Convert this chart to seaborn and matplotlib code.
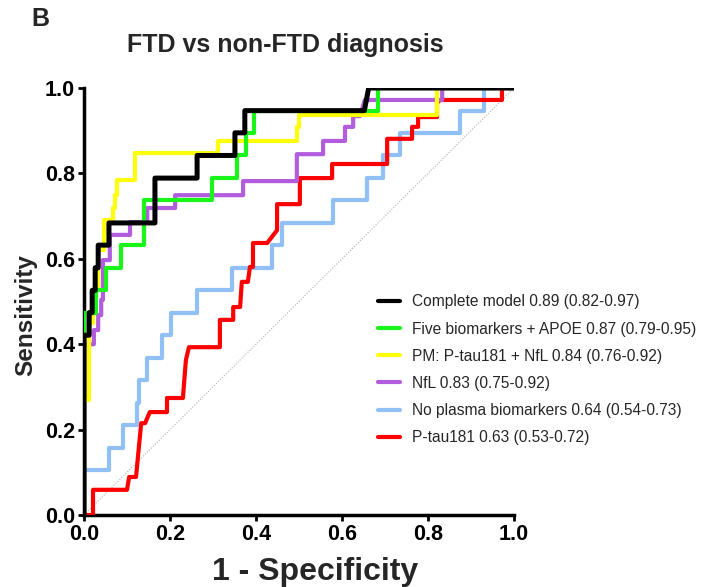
import matplotlib
matplotlib.use("Agg")
import matplotlib.pyplot as plt
import seaborn as sns
import pandas as pd
from matplotlib.lines import Line2D

# ---------------- data ----------------
black_fpr = [0, 0, 0.012, 0.012, 0.019, 0.019, 0.026, 0.026, 0.033, 0.033, 0.058, 0.058,
             0.165, 0.165, 0.263, 0.263, 0.351, 0.351, 0.374, 0.374, 0.652, 0.662, 1.0]
black_tpr = [0, 0.421, 0.421, 0.474, 0.474, 0.526, 0.526, 0.579, 0.579, 0.632, 0.632, 0.684,
             0.684, 0.789, 0.789, 0.842, 0.842, 0.895, 0.895, 0.947, 0.947, 1.0, 1.0]

green_fpr = [0, 0, 0.028, 0.028, 0.051, 0.051, 0.086, 0.086, 0.14, 0.14, 0.298, 0.298,
             0.356, 0.356, 0.377, 0.377, 0.395, 0.395, 0.684, 0.684, 1.0]
green_tpr = [0, 0.474, 0.474, 0.526, 0.526, 0.579, 0.579, 0.632, 0.632, 0.737, 0.737, 0.789,
             0.789, 0.842, 0.842, 0.895, 0.895, 0.947, 0.947, 1.0, 1.0]

yellow_fpr = [0, 0, 0.012, 0.012, 0.02, 0.02, 0.033, 0.033, 0.047, 0.047, 0.068, 0.068,
              0.073, 0.073, 0.077, 0.077, 0.119, 0.119, 0.312, 0.312, 0.495, 0.495, 0.5, 0.5,
              0.82, 0.82, 1.0]
yellow_tpr = [0, 0.27, 0.27, 0.45, 0.45, 0.53, 0.53, 0.62, 0.62, 0.69, 0.69, 0.72,
              0.72, 0.75, 0.75, 0.785, 0.785, 0.848, 0.848, 0.876, 0.876, 0.909, 0.909, 0.937,
              0.937, 1.0, 1.0]

purple_fpr = [0, 0, 0.023, 0.023, 0.033, 0.033, 0.04, 0.04, 0.044, 0.044, 0.06, 0.06,
              0.107, 0.107, 0.147, 0.147, 0.212, 0.212, 0.37, 0.37, 0.495, 0.495, 0.556, 0.556,
              0.607, 0.607, 0.626, 0.626, 0.642, 0.653, 0.833, 0.833, 1.0]
purple_tpr = [0, 0.40, 0.40, 0.433, 0.433, 0.468, 0.468, 0.504, 0.504, 0.597, 0.597, 0.656,
              0.656, 0.686, 0.686, 0.719, 0.719, 0.749, 0.749, 0.782, 0.782, 0.845, 0.845, 0.876,
              0.876, 0.909, 0.909, 0.934, 0.934, 0.972, 0.972, 1.0, 1.0]

blue_fpr = [0, 0, 0.058, 0.058, 0.091, 0.091, 0.123, 0.123, 0.128, 0.128, 0.147, 0.147,
            0.181, 0.181, 0.202, 0.202, 0.263, 0.263, 0.344, 0.344, 0.437, 0.437, 0.46, 0.46,
            0.579, 0.579, 0.658, 0.658, 0.695, 0.695, 0.735, 0.735, 0.874, 0.874, 0.93, 0.93, 1.0]
blue_tpr = [0, 0.105, 0.105, 0.158, 0.158, 0.211, 0.211, 0.263, 0.263, 0.316, 0.316, 0.368,
            0.368, 0.421, 0.421, 0.474, 0.474, 0.526, 0.526, 0.579, 0.579, 0.632, 0.632, 0.684,
            0.684, 0.737, 0.737, 0.789, 0.789, 0.842, 0.842, 0.895, 0.895, 0.947, 0.947, 1.0, 1.0]

red_fpr = [0, 0.021, 0.021, 0.1, 0.105, 0.121, 0.133, 0.142, 0.153, 0.193, 0.193, 0.23,
           0.237, 0.244, 0.316, 0.316, 0.347, 0.347, 0.363, 0.367, 0.381, 0.386, 0.393, 0.393,
           0.426, 0.449, 0.449, 0.502, 0.502, 0.577, 0.577, 0.705, 0.705, 0.763, 0.763, 0.777,
           0.777, 0.821, 0.821, 0.828, 0.972, 0.972, 1.0]
red_tpr = [0, 0, 0.059, 0.059, 0.089, 0.089, 0.215, 0.215, 0.241, 0.241, 0.274, 0.274,
           0.363, 0.393, 0.393, 0.457, 0.457, 0.487, 0.487, 0.546, 0.546, 0.581, 0.581, 0.637,
           0.637, 0.667, 0.728, 0.728, 0.789, 0.789, 0.822, 0.822, 0.881, 0.881, 0.909, 0.909,
           0.932, 0.932, 0.965, 0.972, 0.972, 1.0, 1.0]

chance_line = [0, 1]

labels = ["Complete model 0.89 (0.82-0.97)",
          "Five biomarkers + APOE 0.87 (0.79-0.95)",
          "PM: P-tau181 + NfL 0.84 (0.76-0.92)",
          "NfL 0.83 (0.75-0.92)",
          "No plasma biomarkers 0.64 (0.54-0.73)",
          "P-tau181 0.63 (0.53-0.72)"]
colors = ["#000000", "#19f519", "#ffff0a", "#b25ddd", "#90c0f4", "#ff0000"]
series = [(black_fpr, black_tpr), (green_fpr, green_tpr), (yellow_fpr, yellow_tpr),
          (purple_fpr, purple_tpr), (blue_fpr, blue_tpr), (red_fpr, red_tpr)]

frames = []
for lab, (fx, ty) in zip(labels, series):
    frames.append(pd.DataFrame({"fpr": fx, "tpr": ty, "model": lab}))
df = pd.concat(frames, ignore_index=True)

# ---------------- plot ----------------
sns.set_theme(style="ticks")
plt.rcParams["font.family"] = ["Liberation Sans", "DejaVu Sans"]

fig = plt.figure(figsize=(7.16, 5.87), dpi=100)
ax = fig.add_axes([84 / 716, 1 - 515 / 587, 430 / 716, 427 / 587])

ax.plot(chance_line, chance_line, ls=(0, (1, 1.5)), color="#b0b0b0", lw=0.8, zorder=1)

draw_order = [4, 5, 3, 2, 1, 0]
for i in draw_order:
    sub = df[df["model"] == labels[i]]
    sns.lineplot(data=sub, x="fpr", y="tpr", sort=False, estimator=None,
                 color=colors[i], lw=3.6 if i == 0 else 3.0, ax=ax, zorder=2 + draw_order.index(i),
                 legend=False)

ax.set_xlim(0, 1)
ax.set_ylim(0, 1)
ax.set_xticks([0, 0.2, 0.4, 0.6, 0.8, 1.0])
ax.set_yticks([0, 0.2, 0.4, 0.6, 0.8, 1.0])
ax.set_xticklabels(["0.0", "0.2", "0.4", "0.6", "0.8", "1.0"])
ax.set_yticklabels(["0.0", "0.2", "0.4", "0.6", "0.8", "1.0"])
for lbl in ax.get_xticklabels() + ax.get_yticklabels():
    lbl.set_fontweight("bold")
    lbl.set_fontsize(15.5)
ax.tick_params(direction="out", length=4.5, width=2, colors="black", pad=2)
for s in ["top", "right"]:
    ax.spines[s].set_visible(False)
for s in ["left", "bottom"]:
    ax.spines[s].set_linewidth(2.5)
    ax.spines[s].set_color("black")
ax.grid(False)

ax.set_xlabel("1 - Specificity", fontsize=23, fontweight="bold")
ax.set_ylabel("Sensitivity", fontsize=17.5, fontweight="bold")
ax.xaxis.label.set_va("center")
ax.xaxis.set_label_coords((315 - 84) / 430, -(572 - 515) / 427)
ax.yaxis.label.set_va("center")
ax.yaxis.set_label_coords(-(84 - 26) / 430, (515 - 315) / 427)

fig.text(285 / 716, 1 - 45 / 587, "FTD vs non-FTD diagnosis", fontsize=18,
         fontweight="bold", ha="center", va="center")
fig.text(40 / 716, 1 - 19 / 587, "B", fontsize=18, fontweight="bold",
         ha="center", va="center")

handles = [Line2D([0], [0], color=c, lw=3) for c in colors]
leg = ax.legend(handles, labels, loc="upper left", bbox_to_anchor=(366 / 716, 1 - 282 / 587),
                bbox_transform=fig.transFigure, frameon=False, fontsize=11.2,
                handlelength=1.4, handletextpad=0.75, labelspacing=0.78, borderpad=0.3)

fig.savefig("out.png", dpi=100)
